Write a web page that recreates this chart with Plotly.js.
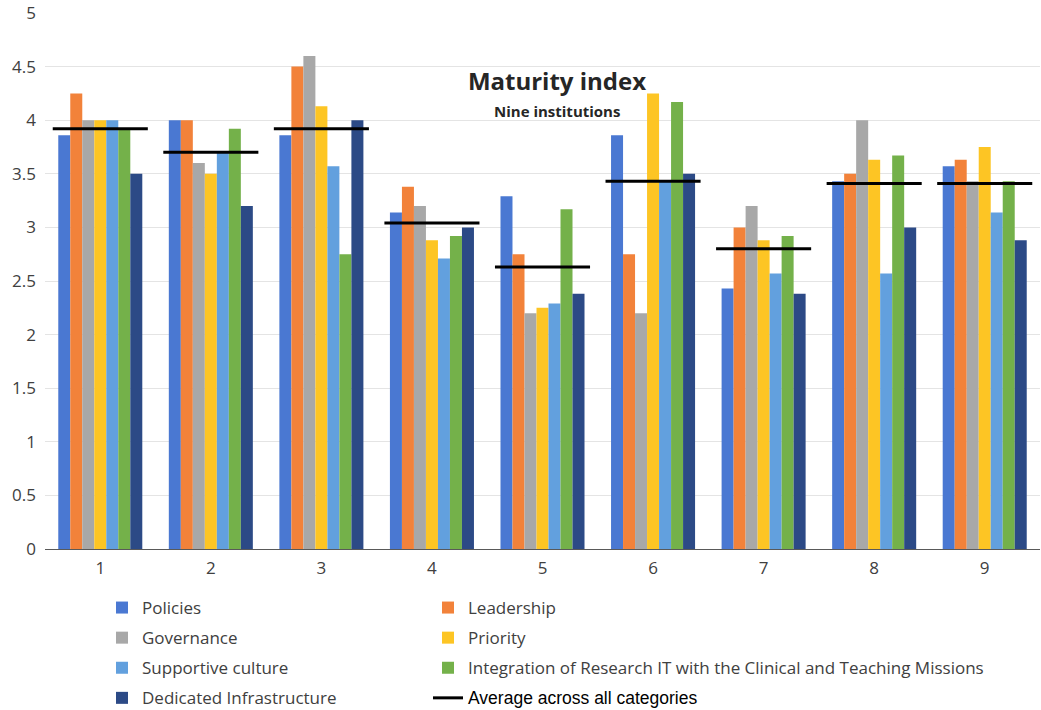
<!DOCTYPE html>
<html>
<head>
<meta charset="utf-8">
<script src="https://cdn.plot.ly/plotly-3.0.1.min.js"></script>
<style>html,body{margin:0;padding:0;background:#fff;}#chart{width:1041px;height:710px;}</style>
</head>
<body>
<div id="chart"></div>
<script>
// Institutions (x categories)
const institutions = [1, 2, 3, 4, 5, 6, 7, 8, 9];
const tickLabels = ['1', '2', '3', '4', '5', '6', '7', '8', '9'];
const yTicks = [0, 0.5, 1, 1.5, 2, 2.5, 3, 3.5, 4, 4.5, 5];

// Series values
const policies     = [3.86, 4.00, 3.86, 3.14, 3.29, 3.86, 2.43, 3.43, 3.57];
const leadership   = [4.25, 4.00, 4.50, 3.38, 2.75, 2.75, 3.00, 3.50, 3.63];
const governance   = [4.00, 3.60, 4.60, 3.20, 2.20, 2.20, 3.20, 4.00, 3.43];
const priority     = [4.00, 3.50, 4.13, 2.88, 2.25, 4.25, 2.88, 3.63, 3.75];
const supportive   = [4.00, 3.70, 3.57, 2.71, 2.29, 3.43, 2.57, 2.57, 3.14];
const integration  = [3.92, 3.92, 2.75, 2.92, 3.17, 4.17, 2.92, 3.67, 3.43];
const dedicated    = [3.50, 3.20, 4.00, 3.00, 2.38, 3.50, 2.38, 3.00, 2.88];
const averages     = [3.92, 3.70, 3.92, 3.04, 2.63, 3.43, 2.80, 3.41, 3.41];

const seriesNames = ['Policies', 'Leadership', 'Governance', 'Priority',
  'Supportive culture', 'Integration of Research IT with the Clinical and Teaching Missions',
  'Dedicated Infrastructure'];
const seriesValues = [policies, leadership, governance, priority, supportive, integration, dedicated];
const seriesColors = ['#4a78d2', '#f2823a', '#a8a8a8', '#fdc524', '#62a0de', '#74b14a', '#2c4a86'];
const legendOf = ['legend', 'legend2', 'legend', 'legend2', 'legend', 'legend2', 'legend'];

const traces = seriesNames.map((name, i) => ({
  type: 'bar',
  name: name,
  x: institutions,
  y: seriesValues[i],
  marker: {color: seriesColors[i], line: {width: 0}},
  legend: legendOf[i],
  legendgroup: 'g' + i,
  hoverinfo: 'x+y+name'
}));

// Average line segments spanning each group
const halfSpan = 0.43;
const avgX = [], avgY = [];
institutions.forEach((c, i) => {
  avgX.push(c - halfSpan, c + halfSpan, null);
  avgY.push(averages[i], averages[i], null);
});
traces.push({
  type: 'scatter',
  mode: 'lines',
  name: '<span style="font-family:Liberation Sans, Arial;color:#000;font-size:17.5px">Average across all categories</span>',
  x: avgX,
  y: avgY,
  line: {color: '#000', width: 3},
  legend: 'legend2',
  legendgroup: 'g7',
  hoverinfo: 'y'
});

const legendCommon = {
  orientation: 'v',
  xanchor: 'left',
  yanchor: 'top',
  y: 1 - 590 / 710,
  yref: 'container',
  xref: 'container',
  font: {family: 'Open Sans, sans-serif', size: 17, color: '#404040'},
  tracegroupgap: 5,
  bgcolor: 'rgba(0,0,0,0)',
  itemwidth: 30
};

const layout = {
  width: 1041,
  height: 710,
  margin: {l: 45, r: 1, t: 13, b: 161, autoexpand: false},
  paper_bgcolor: '#fff',
  plot_bgcolor: '#fff',
  font: {family: 'Open Sans, sans-serif', color: '#404040'},
  title: {
    text: '<b>Maturity index</b>',
    font: {family: 'Open Sans, sans-serif', size: 24, color: '#262626'},
    x: 557 / 1041,
    xanchor: 'center',
    y: 1 - 82 / 710,
    yanchor: 'middle',
    automargin: false
  },
  annotations: [{
    text: '<b>Nine institutions</b>',
    xref: 'paper', yref: 'paper',
    x: (557 - 45) / 995, y: (549 - 111) / 536,
    xanchor: 'center', yanchor: 'middle',
    showarrow: false,
    font: {family: 'Open Sans, sans-serif', size: 15, color: '#262626'}
  }],
  barmode: 'group',
  bargap: 0.24,
  bargroupgap: 0,
  xaxis: {
    range: [0.5, 9.5],
    tickmode: 'array',
    tickvals: institutions,
    ticktext: tickLabels,
    showgrid: false,
    zeroline: false,
    showline: true,
    linecolor: '#595959',
    linewidth: 1,
    ticks: '',
    ticklabelstandoff: 4,
    automargin: false,
    tickfont: {family: 'Open Sans, sans-serif', size: 17, color: '#404040'}
  },
  yaxis: {
    range: [0, 5],
    tickmode: 'array',
    tickvals: yTicks,
    ticktext: yTicks.map(String),
    showgrid: true,
    gridcolor: '#e4e4e4',
    gridwidth: 1,
    zeroline: false,
    showline: false,
    ticks: '',
    ticklabelstandoff: 8,
    automargin: false,
    tickfont: {family: 'Open Sans, sans-serif', size: 17, color: '#404040'}
  },
  legend: Object.assign({}, legendCommon, {x: 102 / 1041}),
  legend2: Object.assign({}, legendCommon, {x: 428 / 1041}),
  showlegend: true
};

Plotly.newPlot('chart', traces, layout, {displayModeBar: false, responsive: false});
</script>
</body>
</html>
